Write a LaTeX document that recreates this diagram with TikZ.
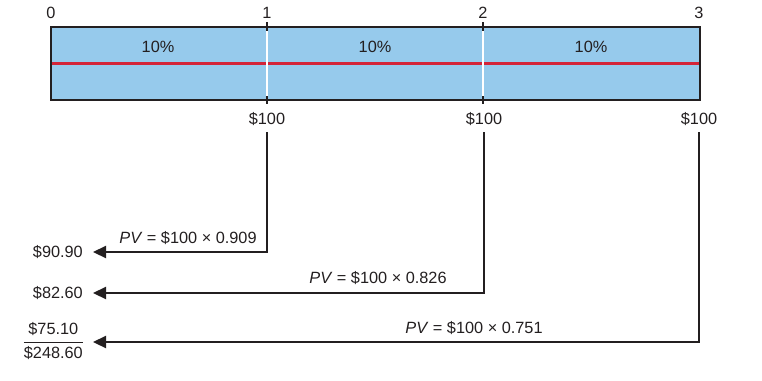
\documentclass[tikz,border=0pt]{standalone}
\usepackage{fontspec}
\setmainfont{Liberation Sans}
\usetikzlibrary{arrows.meta, positioning}
\definecolor{boxblue}{RGB}{150,202,236}
\definecolor{ratered}{RGB}{212,36,56}
\definecolor{ink}{RGB}{35,31,32}

\begin{document}
\begin{tikzpicture}[x=1pt, y=-1pt, font=\fontsize{16.3}{19}\selectfont, text=ink,
  cashflow/.style={draw=ink, line width=2.2pt, -{Triangle[length=13pt, width=12pt]}},
  valuelabel/.style={anchor=east, inner xsep=10pt, inner ysep=0pt}]
  \useasboundingbox (0,0) rectangle (762,380);

  % Time line
  \fill[boxblue] (51,27) rectangle (700,100);
  \draw[ratered, line width=3pt] (51,63) -- (700,63);
  \foreach \x in {267,483} {
    \draw[white, line width=1.2pt] (\x,27) -- (\x,100);
    \draw[ink, line width=1.2pt] (\x,22) -- (\x,31);
    \draw[ink, line width=1.2pt] (\x,96) -- (\x,104);
  }
  \draw[ink, line width=2.2pt] (51,27) rectangle (700,100);

  % Periods and rates
  \node (t0) at (51,13) {0};
  \node (t1) at (267,13) {1};
  \node (t2) at (483,13) {2};
  \node (t3) at (699,13) {3};
  \node (r1) at (158,47) {10\%};
  \node (r2) at (375,47) {10\%};
  \node (r3) at (591,47) {10\%};

  % Cash flows
  \node (c1) at (267,119) {\$100};
  \node (c2) at (484,119) {\$100};
  \node (c3) at (699,119) {\$100};

  % Present values
  \node[valuelabel] (v1) at (93,252) {\$90.90};
  \node[valuelabel] (v2) at (93,293) {\$82.60};
  \node[valuelabel] (v3) at (93,342) {\renewcommand{\arraystretch}{1.2}%
    \begin{tabular}{@{}c@{}}\$75.10\\\hline\$248.60\end{tabular}};

  \node (pv1) at (188,238) {\textit{PV} = \$100 × 0.909};
  \node (pv2) at (378,278) {\textit{PV} = \$100 × 0.826};
  \node (pv3) at (474,328) {\textit{PV} = \$100 × 0.751};

  \draw[cashflow] ([yshift=-3pt]c1.south) |- (v1.east);
  \draw[cashflow] ([yshift=-3pt]c2.south) |- (v2.east);
  \draw[cashflow] ([yshift=-3pt]c3.south) |- (v3.east);
\end{tikzpicture}
\end{document}
